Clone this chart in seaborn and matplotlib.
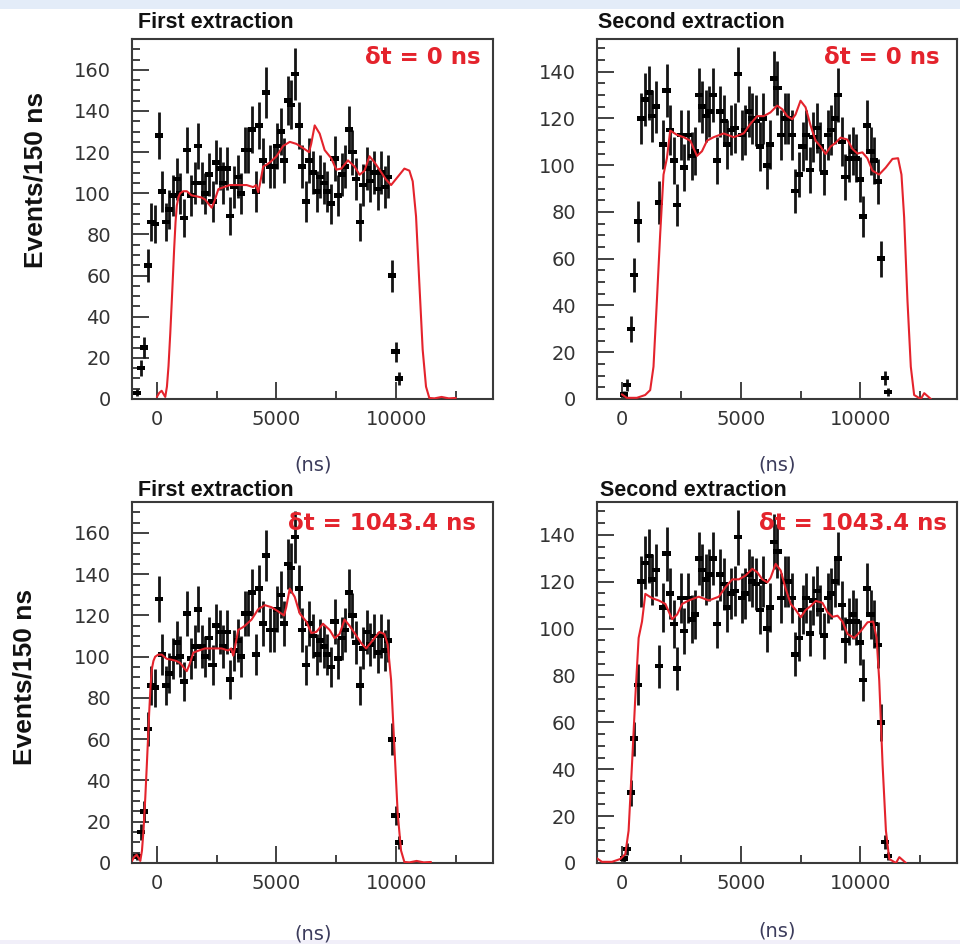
import numpy as np
import pandas as pd
import matplotlib
matplotlib.use("Agg")
import matplotlib.pyplot as plt
import seaborn as sns
from matplotlib.ticker import MultipleLocator, FixedLocator
from matplotlib.patches import Rectangle

# ---------------- data ----------------
bins_first_ns = [-825, -675, -525, -375, -225, -75, 75, 225, 375, 525, 675, 825, 975, 1125,
                 1275, 1425, 1575, 1725, 1875, 2025, 2175, 2325, 2475, 2625, 2775, 2925, 3075,
                 3225, 3375, 3525, 3675, 3825, 3975, 4125, 4275, 4425, 4575, 4725, 4875, 5025,
                 5175, 5325, 5475, 5625, 5775, 5925, 6075, 6225, 6375, 6525, 6675, 6825, 6975,
                 7125, 7275, 7425, 7575, 7725, 7875, 8025, 8175, 8325, 8475, 8625, 8775, 8925,
                 9075, 9225, 9375, 9525, 9675, 9825, 9975, 10125]
counts_first = [3, 15, 25, 65, 86, 85, 128, 101, 86, 92, 99, 107, 100, 88, 121, 99, 105, 123,
                105, 100, 109, 96, 115, 112, 105, 112, 89, 103, 108, 100, 121, 121, 131, 101,
                133, 116, 149, 113, 113, 123, 130, 116, 145, 143, 158, 133, 113, 96, 116, 110,
                101, 108, 105, 101, 95, 117, 99, 109, 113, 131, 120, 107, 86, 104, 112, 106,
                110, 102, 110, 103, 108, 60, 23, 10]

bins_second_ns = [75, 225, 375, 525, 675, 825, 975, 1125, 1275, 1425, 1575, 1725, 1875, 2025,
                  2175, 2325, 2475, 2625, 2775, 2925, 3075, 3225, 3375, 3525, 3675, 3825, 3975,
                  4125, 4275, 4425, 4575, 4725, 4875, 5025, 5175, 5325, 5475, 5625, 5775, 5925,
                  6075, 6225, 6375, 6525, 6675, 6825, 6975, 7125, 7275, 7425, 7575, 7725, 7875,
                  8025, 8175, 8325, 8475, 8625, 8775, 8925, 9075, 9225, 9375, 9525, 9675, 9825,
                  9975, 10125, 10275, 10425, 10575, 10725, 10875, 11025, 11175]
counts_second = [2, 6, 30, 53, 76, 120, 128, 131, 121, 125, 84, 109, 132, 115, 102, 83, 113, 99,
                 113, 104, 106, 130, 125, 121, 123, 130, 102, 123, 119, 109, 115, 116, 139, 113,
                 115, 123, 120, 119, 108, 120, 100, 109, 137, 133, 113, 120, 120, 113, 89, 96,
                 108, 113, 98, 112, 116, 108, 97, 113, 115, 120, 130, 110, 95, 103, 106, 103,
                 94, 78, 117, 106, 102, 93, 60, 9, 3]

model_first_ns = [0, 100, 200, 300, 350, 420, 486, 560, 625, 680, 722, 780, 833, 900, 972, 1100,
                  1250, 1450, 1666, 1850, 2013, 2150, 2291, 2400, 2569, 2800, 3054, 3400, 3750,
                  4027, 4150, 4236, 4300, 4444, 4600, 4722, 5000, 5277, 5555, 5833, 6110, 6360,
                  6450, 6597, 6700, 6805, 7013, 7291, 7500, 7708, 7986, 8263, 8472, 8680, 8888,
                  9097, 9305, 9583, 9791, 10069, 10346, 10555, 10694, 10833, 10972, 11110,
                  11250, 11388, 11600, 11900, 12200, 12500]
model_first = [1, 3, 4, 2, 1, 6, 16, 32, 48, 62, 73, 86, 94, 98, 100, 101, 101, 99, 98.5, 98,
               97, 95, 93, 96, 102, 103, 104, 104, 104, 103, 104, 100.5, 104, 113, 114, 115,
               118, 123, 125, 124, 122, 120, 124, 133, 131, 129, 121, 117, 111.5, 112, 116,
               113, 109, 111, 118, 115, 111.5, 106.6, 104, 108, 112, 111, 105.8, 88.8, 56, 24,
               6, 0.5, 0.3, 1, 0.3, 0.5]

model_second_ns = [0, 210, 630, 979, 1189, 1328, 1470, 1609, 1748, 1890, 2029, 2311, 2588, 2870,
                   3151, 3361, 3571, 3849, 4269, 4689, 5109, 5391, 5672, 5950, 6231, 6512,
                   6722, 6933, 7143, 7282, 7492, 7702, 7912, 8122, 8332, 8542, 8752, 8962,
                   9172, 9454, 9664, 9874, 10084, 10294, 10504, 10784, 11064, 11344, 11580,
                   11722, 11834, 11974, 12114, 12254, 12535, 12675, 12955]
model_second = [2, 0.5, 0.5, 1.7, 3.8, 13.8, 42, 70.7, 96, 103, 114.8, 113, 112, 110.5, 104,
                106, 110.5, 112, 113.6, 112, 113.6, 117.7, 121, 121, 122.6, 125.5, 124, 121,
                119.7, 121.7, 127.6, 124.8, 117, 110.5, 108, 104.8, 108, 109.6, 111.8, 111,
                107, 105, 105.5, 103, 97.7, 96, 99, 102.7, 103, 96, 77.8, 42, 13.8, 1.7, 0,
                2.5, 0]

panel_titles = ["First extraction", "Second extraction", "First extraction", "Second extraction"]
delta_t_ns = [0.0, 0.0, 1043.4, 1043.4]
delta_t_labels = ["δt = 0 ns", "δt = 0 ns", "δt = 1043.4 ns", "δt = 1043.4 ns"]
y_ticks_first = [0, 20, 40, 60, 80, 100, 120, 140, 160]
y_ticks_second = [0, 20, 40, 60, 80, 100, 120, 140]
x_ticks = [0, 5000, 10000]
x_minor_ticks = [2500, 7500, 12500]
y_label = "Events/150 ns"
x_label = "(ns)"

# ---------------- style ----------------
sns.set_theme(style="white")
plt.rcParams["font.family"] = ["DejaVu Sans"]

W, H = 960, 944
fig = plt.figure(figsize=(W / 100, H / 100), dpi=100)
fig.patch.set_facecolor("white")
fig.patches.append(Rectangle((0, 1 - 9 / H), 1, 9 / H, transform=fig.transFigure,
                             facecolor="#e3ecf8", edgecolor="none", zorder=0))
fig.patches.append(Rectangle((0, 0), 1, 4 / H, transform=fig.transFigure,
                             facecolor="#f1eff9", edgecolor="none", zorder=0))


def px_rect(l, t, r, b):
    return [l / W, 1 - b / H, (r - l) / W, (b - t) / H]


def ftext(x, y, s, **kw):
    fig.text(x / W, 1 - y / H, s, **kw)


rects = [(132, 39, 493, 399), (597, 39, 957, 399), (132, 502, 493, 863), (597, 502, 957, 863)]
datasets = [(bins_first_ns, counts_first, model_first_ns, model_first, y_ticks_first, 175),
            (bins_second_ns, counts_second, model_second_ns, model_second, y_ticks_second, 154),
            (bins_first_ns, counts_first, model_first_ns, model_first, y_ticks_first, 175),
            (bins_second_ns, counts_second, model_second_ns, model_second, y_ticks_second, 154)]

RED = "#e4232c"
marker_shape = [(-1.4, -0.8), (1.4, -0.8), (1.4, 0.8), (-1.4, 0.8)]

for i, (rect, ds) in enumerate(zip(rects, datasets)):
    bx, by, mx, my, yt, ymax = ds
    ax = fig.add_axes(px_rect(*rect))
    df = pd.DataFrame({"t": bx, "n": by})
    df["err"] = np.sqrt(df["n"])
    ax.errorbar(df["t"], df["n"], yerr=df["err"], fmt="none", ecolor="#141414",
                elinewidth=2.0, capsize=0, zorder=2)
    sns.scatterplot(data=df, x="t", y="n", ax=ax, marker=marker_shape, s=34,
                    color="black", edgecolor="none", linewidth=0, zorder=3, legend=False)
    mdf = pd.DataFrame({"t": np.asarray(mx) - delta_t_ns[i], "f": my})
    sns.lineplot(data=mdf, x="t", y="f", ax=ax, color=RED, linewidth=1.5,
                 sort=False, estimator=None, zorder=4, legend=False)

    ax.set_xlim(-1040, 14050)
    ax.set_ylim(0, ymax)
    ax.set_xlabel("")
    ax.set_ylabel("")
    ax.xaxis.set_major_locator(FixedLocator(x_ticks))
    ax.xaxis.set_minor_locator(FixedLocator(x_minor_ticks))
    ax.yaxis.set_major_locator(FixedLocator(yt))
    ax.yaxis.set_minor_locator(MultipleLocator(5))
    ax.set_xticklabels([str(v) for v in x_ticks])
    ax.set_yticklabels([str(v) for v in yt])
    ax.tick_params(axis="both", which="both", direction="in", top=False, right=False,
                   left=True, bottom=True, color="#333333", width=1.3)
    ax.tick_params(axis="both", which="major", length=12, labelsize=14, labelcolor="#333333")
    ax.tick_params(axis="both", which="minor", length=6)
    ax.tick_params(axis="y", which="major", pad=15)
    ax.tick_params(axis="x", which="major", pad=8)
    for sp in ax.spines.values():
        sp.set_visible(True)
        sp.set_color("#3a3a3a")
        sp.set_linewidth(1.5)
    ax.set_facecolor("white")

# titles
title_pos = [(138, 22), (598, 22), (138, 491), (600, 491)]
for (x, y), s in zip(title_pos, panel_titles):
    ftext(x, y, s, fontsize=15.5, fontweight="bold", family="Liberation Sans",
          ha="left", va="center", color="#111111")

# delta t labels
dt_pos = [(481, 58), (940, 57), (476, 524), (947, 523)]
for (x, y), s in zip(dt_pos, delta_t_labels):
    ftext(x, y, s, fontsize=16.5, fontweight="bold", color=RED, ha="right", va="center")

# y labels
ftext(36, 180, y_label, fontsize=19, fontweight="bold", family="Liberation Sans",
      rotation=90, ha="center", va="center", color="#111111")
ftext(25, 677, y_label, fontsize=19, fontweight="bold", family="Liberation Sans",
      rotation=90, ha="center", va="center", color="#111111")

# x labels
for x, y in [(313, 465), (777, 465), (313, 934), (777, 931)]:
    ftext(x, y, x_label, fontsize=14, color="#3c3c5c", ha="center", va="center")

fig.savefig("out.png", dpi=100)
